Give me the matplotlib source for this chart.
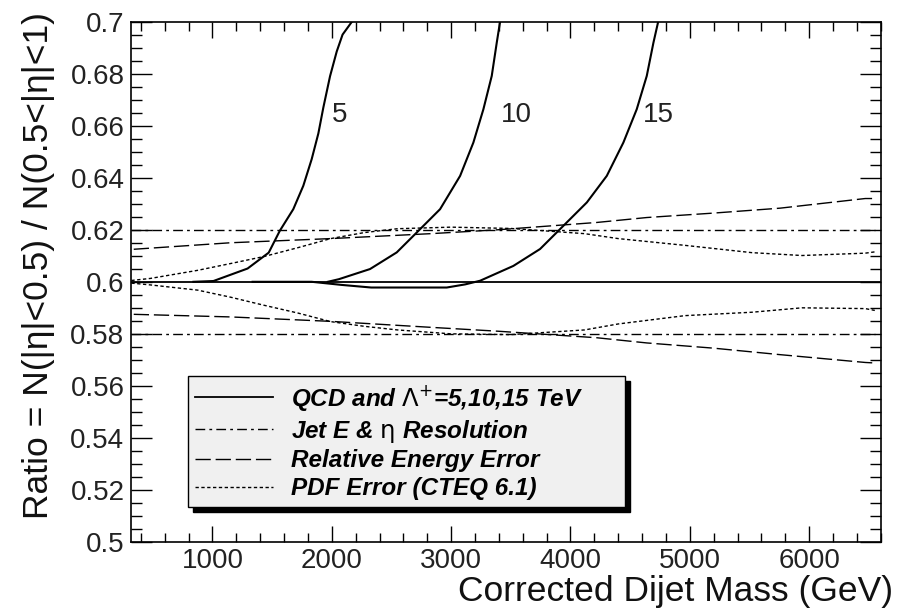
import numpy as np
import matplotlib
matplotlib.use("Agg")
import matplotlib.pyplot as plt
from matplotlib.ticker import MultipleLocator, FuncFormatter

plt.rcParams['font.family'] = ['Liberation Sans', 'DejaVu Sans']
plt.rcParams['mathtext.fontset'] = 'dejavusans'

# QCD and contact-interaction curves (Lambda+ = 5, 10, 15 TeV)
qcd_x = [320, 6600]
qcd_y = [0.600, 0.600]

c5_x = [840, 1008, 1294, 1471, 1564, 1677, 1761, 1831, 1887, 1929, 1985, 2041, 2090, 2169]
c5_y = [0.600, 0.6003, 0.6051, 0.6112, 0.6196, 0.6279, 0.6369, 0.6471, 0.657, 0.667, 0.679, 0.6885,
        0.695, 0.700]

c10_x = [1966, 2059, 2320, 2544, 2739, 2907, 3075, 3186, 3270, 3340, 3382, 3410]
c10_y = [0.600, 0.601, 0.6049, 0.6113, 0.6202, 0.6279, 0.6407, 0.6535, 0.6663, 0.6791, 0.6919, 0.700]

c15_x = [1336, 1831, 2083, 2330, 2963, 3117, 3242, 3521, 3745, 3940, 4137, 4304, 4443, 4555, 4639,
         4695, 4735]
c15_y = [0.600, 0.600, 0.5988, 0.5978, 0.5978, 0.599, 0.6004, 0.6061, 0.6126, 0.6215, 0.6305, 0.6407,
         0.6535, 0.6663, 0.6791, 0.6919, 0.700]

# Jet E & eta resolution band
res_x = [320, 6550]
res_hi = [0.620, 0.620]
res_lo = [0.580, 0.580]

# relative energy error band
ene_x = [340, 1150, 1990, 2830, 3395, 4220, 4640, 5198, 5757, 6470, 6550]
ene_hi = [0.6125, 0.615, 0.6166, 0.6185, 0.620, 0.6228, 0.6247, 0.6264, 0.6283, 0.632, 0.632]
ene_lo = [0.5875, 0.5865, 0.5848, 0.5825, 0.581, 0.5785, 0.5765, 0.5745, 0.572, 0.569, 0.5688]

# PDF error band (CTEQ 6.1)
pdf_x = [320, 480, 875, 1150, 1430, 1715, 1990, 2270, 2550, 3000, 3500, 4118, 4400, 4960, 5520, 5940,
         6470, 6550]
pdf_hi = [0.6005, 0.6013, 0.6044, 0.607, 0.6097, 0.6131, 0.6166, 0.6189, 0.6204, 0.621, 0.6205, 0.6185,
          0.6166, 0.614, 0.6112, 0.6101, 0.611, 0.6115]
pdf_lo = [0.5995, 0.5988, 0.5968, 0.5941, 0.591, 0.588, 0.5847, 0.5829, 0.5815, 0.580, 0.5797, 0.5815,
          0.5838, 0.587, 0.5883, 0.590, 0.5897, 0.589]

lambda_labels = ['5', '10', '15']
label_x = [2063, 3544, 4737]
label_y = 0.664

fig = plt.figure(figsize=(9.04, 6.13), dpi=100)
ax = fig.add_axes([0.1453, 0.1158, 0.829, 0.849])

dashdot = (0, (7, 3, 2, 3))
longdash = (0, (11, 3.5))
dotted = (0, (2.4, 1.8))

ax.plot(qcd_x, qcd_y, color='black', lw=1.3, label=r'QCD and $\Lambda^{+}$=5,10,15 TeV')
ax.plot(c5_x, c5_y, color='black', lw=1.5)
ax.plot(c10_x, c10_y, color='black', lw=1.5)
ax.plot(c15_x, c15_y, color='black', lw=1.5)

ax.plot(res_x, res_hi, color='black', lw=1.0, ls=dashdot, label=r'Jet E & $\mathrm{\eta}$ Resolution')
ax.plot(res_x, res_lo, color='black', lw=1.0, ls=dashdot)
ax.plot(ene_x, ene_hi, color='black', lw=1.0, ls=longdash, label='Relative Energy Error')
ax.plot(ene_x, ene_lo, color='black', lw=1.0, ls=longdash)
ax.plot(pdf_x, pdf_hi, color='black', lw=1.0, ls=dotted, label='PDF Error (CTEQ 6.1)')
ax.plot(pdf_x, pdf_lo, color='black', lw=1.0, ls=dotted)

for lab, lx in zip(lambda_labels, label_x):
    ax.text(lx, label_y, lab, fontsize=20, ha='center', va='center', color='#222222')

ax.set_xlim(320, 6600)
ax.set_ylim(0.5, 0.7)
ax.xaxis.set_major_locator(MultipleLocator(1000))
ax.xaxis.set_minor_locator(MultipleLocator(200))
ax.yaxis.set_major_locator(MultipleLocator(0.02))
ax.yaxis.set_minor_locator(MultipleLocator(0.005))
ax.yaxis.set_major_formatter(FuncFormatter(lambda v, p: '%g' % round(v, 3)))
ax.tick_params(which='both', direction='in', top=True, right=True, labelsize=20, width=1.0,
               labelcolor='#222222')
ax.tick_params(axis='x', which='major', length=11.5, pad=4)
ax.tick_params(axis='x', which='minor', length=6.5)
ax.tick_params(axis='y', which='major', length=15, pad=5)
ax.tick_params(axis='y', which='minor', length=8)
for s in ax.spines.values():
    s.set_linewidth(1.2)

ax.set_xlabel('Corrected Dijet Mass (GeV)', fontsize=25.5, color='#111111')
ax.xaxis.set_label_coords(1.017, -0.064)
ax.xaxis.label.set_horizontalalignment('right')
ax.set_ylabel('Ratio = N(|η|<0.5) / N(0.5<|η|<1)', fontsize=25.5, color='#111111')
ax.yaxis.set_label_coords(-0.102, 1.018)
ax.yaxis.label.set_horizontalalignment('right')

leg = ax.legend(loc='lower left', bbox_to_anchor=(0.0755, 0.0672, 0.583, 0.248), mode='expand',
                prop={'style': 'italic', 'weight': 'bold', 'size': 17.5},
                handlelength=3.2, handletextpad=0.74, labelspacing=0.2, borderpad=0.28,
                borderaxespad=0, fancybox=False, framealpha=1, edgecolor='black',
                shadow={'ox': 3.5, 'oy': -3.5, 'color': 'black', 'alpha': 1})
leg.get_frame().set_facecolor('#f0f0f0')
leg.get_frame().set_linewidth(1.0)

fig.savefig('out.png', dpi=100)
